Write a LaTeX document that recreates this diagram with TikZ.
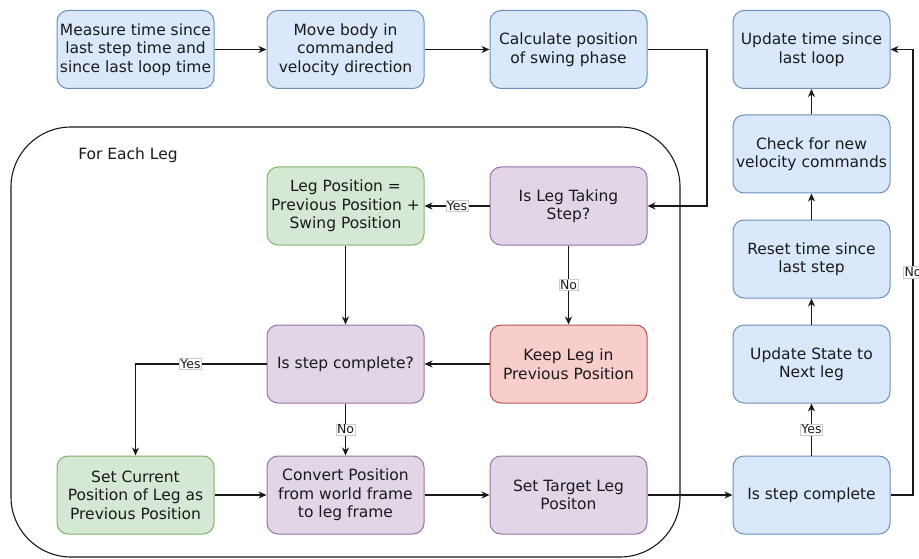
\documentclass[tikz,border=0pt]{standalone}
\usepackage{fontspec}
\setmainfont{DejaVu Sans}
\usetikzlibrary{arrows.meta}

\definecolor{bluefill}{HTML}{DAE8FC}
\definecolor{bluedraw}{HTML}{6C8EBF}
\definecolor{greenfill}{HTML}{D5E8D4}
\definecolor{greendraw}{HTML}{82B366}
\definecolor{purplefill}{HTML}{E1D5E7}
\definecolor{purpledraw}{HTML}{9673A6}
\definecolor{redfill}{HTML}{F8CECC}
\definecolor{reddraw}{HTML}{B85450}
\definecolor{inktext}{HTML}{1A1A1A}

\tikzset{
  box/.style={rounded corners=11pt, minimum width=157pt, minimum height=78pt,
    line width=1pt, align=center, inner sep=2pt, text=inktext,
    font=\fontsize{15.5}{18.5}\selectfont},
  bluebox/.style={box, fill=bluefill, draw=bluedraw},
  greenbox/.style={box, fill=greenfill, draw=greendraw},
  purplebox/.style={box, fill=purplefill, draw=purpledraw},
  redbox/.style={box, fill=redfill, draw=reddraw},
  flow/.style={line width=1.2pt, draw=black!90, -{Stealth[length=8pt,width=7pt,inset=2.5pt]}},
  lbl/.style={fill=white, draw=black!20, line width=0.4pt, inner sep=1pt,
    text=inktext, font=\fontsize{12.5}{14}\selectfont},
}

\begin{document}
\begin{tikzpicture}[x=1pt, y=-1pt]
  \useasboundingbox (0,0) rectangle (919,559);

  % loop container for the per-leg steps
  \draw[line width=1.1pt, draw=black!90, rounded corners=60pt]
    (11,127) rectangle (680,557);
  \node[text=inktext, font=\fontsize{15.5}{18.5}\selectfont] (title) at (128,155) {For Each Leg};

  % top row
  \node[bluebox] (measure) at (135.5,49.5) {Measure time since\\last step time and\\since last loop time};
  \node[bluebox] (move) at (345.5,49.5) {Move body in\\commanded\\velocity direction};
  \node[bluebox] (swing) at (568.5,49.5) {Calculate position\\of swing phase};

  % right column
  \node[bluebox] (looptime) at (811.5,49.5) {Update time since\\last loop};
  \node[bluebox] (velcmd) at (811.5,154) {Check for new\\velocity commands};
  \node[bluebox] (resetstep) at (811.5,259) {Reset time since\\last step};
  \node[bluebox] (nextleg) at (811.5,364) {Update State to\\Next leg};
  \node[bluebox] (stepdone) at (811.5,495) {Is step complete};

  % per-leg steps
  \node[greenbox] (legpos) at (345.5,206) {Leg Position =\\Previous Position +\\Swing Position};
  \node[purplebox] (taking) at (568.5,206) {Is Leg Taking\\Step?};
  \node[purplebox] (legdone) at (345.5,364) {Is step complete?};
  \node[redbox] (keep) at (568.5,364) {Keep Leg in\\Previous Position};
  \node[greenbox] (setcur) at (135.5,495) {Set Current\\Position of Leg as\\Previous Position};
  \node[purplebox] (convert) at (345.5,495) {Convert Position\\from world frame\\to leg frame};
  \node[purplebox] (target) at (568.5,495) {Set Target Leg\\Positon};

  \coordinate (swingturn) at (707,49.5);
  \coordinate (noturn) at (913,495);

  % connectors
  \draw[flow] (measure) -- (move);
  \draw[flow] (move) -- (swing);
  \draw[flow] (swing.east) -- (swingturn) |- (taking.east);
  \draw[flow] (taking) -- node[lbl] {Yes} (legpos);
  \draw[flow] (taking) -- node[lbl] {No} (keep);
  \draw[flow] (keep) -- (legdone);
  \draw[flow] (legpos) -- (legdone);
  \draw[flow] (legdone.west) -- node[lbl, pos=0.58] {Yes} (setcur.north |- legdone.west) -- (setcur.north);
  \draw[flow] (legdone) -- node[lbl] {No} (convert);
  \draw[flow] (setcur) -- (convert);
  \draw[flow] (convert) -- (target);
  \draw[flow] (target) -- (stepdone);
  \draw[flow] (stepdone) -- node[lbl] {Yes} (nextleg);
  \draw[flow] (nextleg) -- (resetstep);
  \draw[flow] (resetstep) -- (velcmd);
  \draw[flow] (velcmd) -- (looptime);
  \draw[flow] (stepdone.east) -- (noturn) -- node[lbl] {No} (noturn |- looptime.east) -- (looptime.east);
\end{tikzpicture}
\end{document}
